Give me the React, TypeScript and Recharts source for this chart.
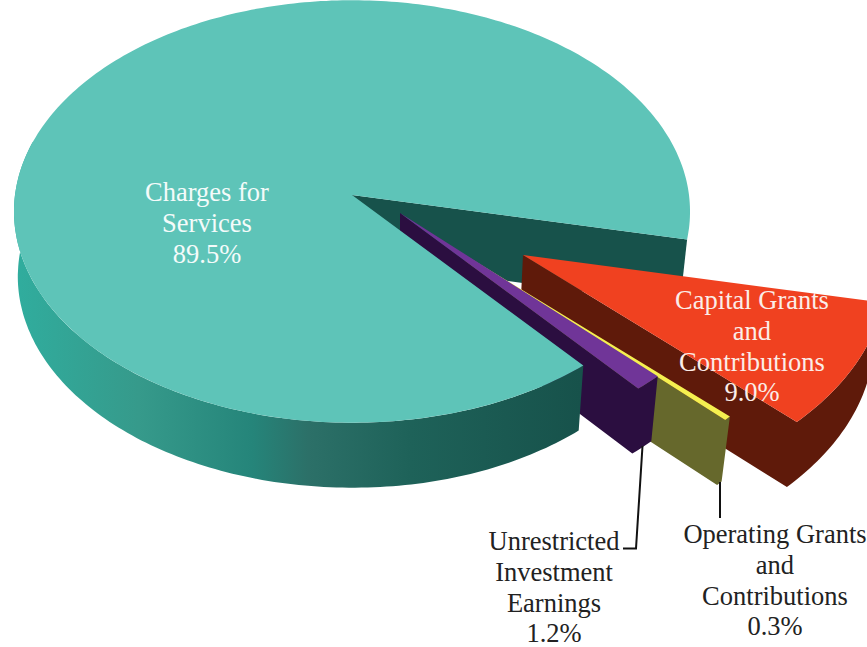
import React from 'react';
import { PieChart, Pie } from 'recharts';

// drawn back to front, clockwise from the cut at the right of the big slice
const categories = [
  'Capital Grants and Contributions',
  'Operating Grants and Contributions',
  'Unrestricted Investment Earnings',
  'Charges for Services',
];
const shares = [9.0, 0.3, 1.2, 89.5];

const chartData = categories.map((name, i) => ({ name, value: shares[i] }));

const SQUASH = 0.623;
const PERSPECTIVE = 0.078;
const DEPTH = 65;
const VANISH_X = 400;
const FONT = '"Liberation Serif", "Times New Roman", serif';

const look: Record<string, any> = {
  'Capital Grants and Contributions': { dx: 171, dy: 60, grow: 1.075, top: '#F04120', wall: '#5F1A0A', cut: '#5F1A0A' },
  'Operating Grants and Contributions': { dx: 113, dy: 60, grow: 1.04, top: '#F5F050', wall: '#66682C', cut: '#66682C' },
  'Unrestricted Investment Earnings': { dx: 48, dy: 18, grow: 1.03, top: '#703598', wall: '#2B0E40', cut: '#2B0E40' },
  'Charges for Services': { dx: 0, dy: 0, grow: 1, top: '#5EC4B8', wall: 'url(#tealSide)', cut: '#17524B' },
};

const labelText: Record<string, any> = {
  'Charges for Services': { lines: ['Charges for', 'Services'], x: 207, y: 201, fill: '#F4FBFA' },
  'Capital Grants and Contributions': { lines: ['Capital Grants', 'and', 'Contributions'], x: 752, y: 309, fill: '#FBEDE8' },
  'Unrestricted Investment Earnings': { lines: ['Unrestricted', 'Investment', 'Earnings'], x: 554, y: 550, fill: '#222222', leader: 'M642.5 446 L636 548.5 L623 548.5' },
  'Operating Grants and Contributions': { lines: ['Operating Grants', 'and', 'Contributions'], x: 775, y: 543, fill: '#222222', leader: 'M720 482 L720 518' },
};

type Pt = [number, number];

const rim = (cx: number, cy: number, r: number, deg: number): Pt => {
  const a = (deg * Math.PI) / 180;
  const u = Math.cos(a);
  const v = -Math.sin(a);
  const near = 1 / (1 - PERSPECTIVE * v);
  return [cx + r * u * near, cy + r * SQUASH * v * near];
};

const sink = (p: Pt): Pt => {
  const lean = p[0] < VANISH_X ? 0.99 : 0.975;
  return [VANISH_X + (p[0] - VANISH_X) * lean, p[1] + DEPTH];
};

const arc = (cx: number, cy: number, r: number, from: number, to: number): Pt[] => {
  const steps = Math.max(2, Math.ceil(Math.abs(to - from)));
  const pts: Pt[] = [];
  for (let i = 0; i <= steps; i++) pts.push(rim(cx, cy, r, from + ((to - from) * i) / steps));
  return pts;
};

const toPath = (pts: Pt[]) => 'M' + pts.map((p) => `${p[0].toFixed(1)} ${p[1].toFixed(1)}`).join('L') + 'Z';

// the cut face at the right of the big slice sits behind every other piece
const BackWall = (props: any) => {
  const { cx, cy, outerRadius, endAngle, name } = props;
  if (name !== 'Charges for Services') return <g />;
  const apex: Pt = [cx, cy];
  const edge = rim(cx, cy, outerRadius, endAngle);
  return <path d={toPath([apex, edge, sink(edge), sink(apex)])} fill={look[name].cut} />;
};

const Slice3D = (props: any) => {
  const { cx, cy, outerRadius, startAngle, endAngle, name } = props;
  const s = look[name];
  const x = cx + s.dx;
  const y = cy + s.dy;
  const r = outerRadius * s.grow;
  const big = name === 'Charges for Services';
  const apex: Pt = [x, y];
  const top = arc(x, y, r, startAngle, endAngle);

  // outer wall, only the part facing the viewer
  const outer = arc(x, y, r, startAngle, big ? -195 : endAngle);
  const cutEdge = top[top.length - 1];
  // small slices: cut face and outer wall in one outline so no seam shows between them
  const wall = big
    ? [...outer, ...outer.map(sink).reverse()]
    : [apex, cutEdge, ...[...outer].reverse().slice(1), ...outer.map(sink), sink(apex)];

  return (
    <g>
      <path d={toPath(wall)} fill={s.wall} />
      <path d={toPath([apex, ...top])} fill={s.top} />
    </g>
  );
};

const renderLabel = (props: any) => {
  const item = labelText[props.name];
  const share = `${Number(props.value).toFixed(1)}%`;
  const lines = [...item.lines, share];
  return (
    <g key={props.name}>
      {item.leader && <path d={item.leader} fill="none" stroke="#111111" strokeWidth={2} />}
      <text x={item.x} y={item.y} textAnchor="middle" fontFamily={FONT} fontSize={26.5} fill={item.fill}>
        {lines.map((line: string, i: number) => (
          <tspan key={i} x={item.x} y={item.y + i * 30.8}>
            {line}
          </tspan>
        ))}
      </text>
    </g>
  );
};

export default function App() {
  return (
    <div style={{ position: 'fixed', left: 0, top: 0, width: 867, height: 647, overflow: 'hidden', background: '#fff' }}>
      <PieChart width={867} height={647} margin={{ top: 0, right: 0, bottom: 0, left: 0 }}>
        <defs>
          <linearGradient id="tealSide" gradientUnits="userSpaceOnUse" x1="14" y1="0" x2="580" y2="0">
            <stop offset="0%" stopColor="#30AD9E" />
            <stop offset="22%" stopColor="#369A8B" />
            <stop offset="42%" stopColor="#25857A" />
            <stop offset="52%" stopColor="#2C7068" />
            <stop offset="70%" stopColor="#1E6259" />
            <stop offset="100%" stopColor="#17524B" />
          </linearGradient>
        </defs>
        <Pie
          data={chartData}
          dataKey="value"
          nameKey="name"
          cx={352}
          cy={195}
          outerRadius={337}
          startAngle={-12}
          endAngle={-372}
          stroke="none"
          isAnimationActive={false}
          shape={BackWall}
          labelLine={false}
        />
        <Pie
          data={chartData}
          dataKey="value"
          nameKey="name"
          cx={352}
          cy={195}
          outerRadius={337}
          startAngle={-12}
          endAngle={-372}
          stroke="none"
          isAnimationActive={false}
          shape={Slice3D}
          labelLine={false}
          label={renderLabel}
        />
      </PieChart>
    </div>
  );
}
